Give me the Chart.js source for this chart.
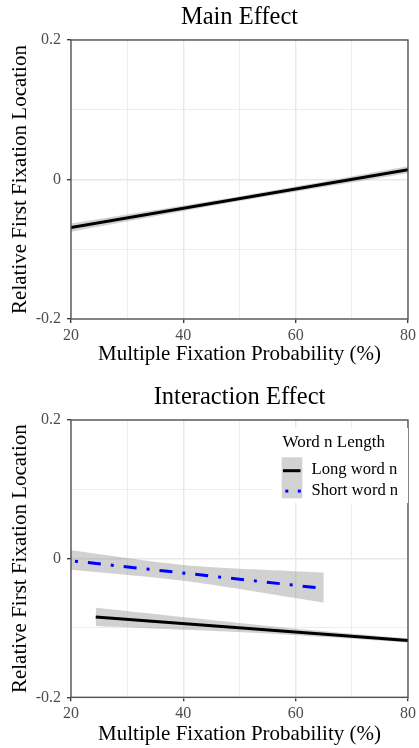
<!DOCTYPE html>
<html><head><meta charset="utf-8">
<script src="https://cdn.jsdelivr.net/npm/chart.js@4.4.1/dist/chart.umd.min.js"></script>
<style>
html,body{margin:0;padding:0;background:#fff;}
#wrap{position:relative;width:419px;height:748px;overflow:hidden;}
.pane{position:absolute;left:0;width:419px;height:374px;}
</style></head><body>
<div id="wrap">
<div class="pane" style="top:0"><canvas id="c1" width="419" height="374"></canvas></div>
<div class="pane" style="top:374px"><canvas id="c2" width="419" height="374"></canvas></div>
</div>
<script>
// ---- data ----
const panelTitles = ['Main Effect', 'Interaction Effect'];
const xAxisTitle = 'Multiple Fixation Probability (%)';
const yAxisTitle = 'Relative First Fixation Location';
const xTickLabels = ['20', '40', '60', '80'];
const yTickLabels = ['-0.2', '0', '0.2'];

const mainX = [20, 80];
const mainFit = [-0.069, 0.014];
const mainRibbonX = [20, 50, 80];
const mainUpper = [-0.063, -0.024, 0.019];
const mainLower = [-0.075, -0.031, 0.009];

const longX = [24.4, 80];
const longFit = [-0.084, -0.118];
const longRibbonX = [24.4, 55, 80];
const longUpper = [-0.071, -0.097, -0.115];
const longLower = [-0.097, -0.108, -0.121];

const shortX = [20, 65];
const shortFit = [-0.003, -0.043];
const shortRibbonX = [20, 40, 65];
const shortUpper = [0.012, -0.009, -0.020];
const shortLower = [-0.016, -0.032, -0.0635];

const legendTitle = 'Word n Length';
const seriesNames = ['Long word n', 'Short word n'];

// ---- helpers ----
const SERIF = "'Liberation Serif', 'Times New Roman', serif";
const RIBBON = 'rgba(153,153,153,0.45)';
const pts = (xs, ys) => xs.map((x, i) => ({x, y: ys[i]}));

function lineDs(label, xs, ys, color, dash, dashOffset) {
  return {type: 'line', label, data: pts(xs, ys), borderColor: color, borderWidth: 3,
    borderDash: dash || [], borderDashOffset: dashOffset || 0, borderCapStyle: 'butt',
    pointRadius: 0, fill: false, tension: 0};
}
function ribbonDs(xs, upper, lower) {
  return [
    {type: 'line', label: '_up', data: pts(xs, upper), borderWidth: 0, borderColor: 'rgba(0,0,0,0)',
      pointRadius: 0, fill: false, tension: 0.3},
    {type: 'line', label: '_lo', data: pts(xs, lower), borderWidth: 0, borderColor: 'rgba(0,0,0,0)',
      pointRadius: 0, fill: '-1', backgroundColor: RIBBON, tension: 0.3}
  ];
}

const borderPlugin = {
  id: 'panelBorder',
  afterDatasetsDraw(chart) {
    const a = chart.chartArea, ctx = chart.ctx;
    ctx.save();
    ctx.strokeStyle = '#4a4a4a';
    ctx.lineWidth = 1.3;
    ctx.strokeRect(a.left, a.top, a.right - a.left, a.bottom - a.top);
    ctx.restore();
  }
};

const legendPlugin = {
  id: 'insideLegend',
  afterDraw(chart) {
    const ctx = chart.ctx;
    ctx.save();
    ctx.fillStyle = '#ffffff';
    ctx.fillRect(272, 54, 136, 75);
    ctx.fillStyle = '#000';
    ctx.font = '17px ' + SERIF;
    ctx.textBaseline = 'alphabetic';
    ctx.textAlign = 'left';
    ctx.fillText(legendTitle, 282.5, 72.5);
    ctx.fillStyle = '#d2d2d2';
    ctx.fillRect(281.7, 83.3, 20.6, 41);
    ctx.strokeStyle = '#000';
    ctx.lineWidth = 3;
    ctx.beginPath(); ctx.moveTo(283, 96.7); ctx.lineTo(300.5, 96.7); ctx.stroke();
    ctx.fillStyle = '#0000ff';
    ctx.fillRect(285.3, 115.6, 3, 3);
    ctx.fillRect(297.8, 115.6, 3, 3);
    ctx.fillStyle = '#000';
    ctx.font = '16.6px ' + SERIF;
    ctx.fillText(seriesNames[0], 311.5, 100.3);
    ctx.fillText(seriesNames[1], 311.5, 121);
    ctx.restore();
  }
};

function makeChart(id, title, datasets, cfg, plugins) {
  return new Chart(document.getElementById(id), {
    type: 'line',
    data: {datasets},
    options: {
      responsive: false, animation: false,
      layout: {padding: {left: 0, right: 8, top: 0, bottom: 0}},
      plugins: {
        legend: {display: false}, tooltip: {enabled: false},
        title: {display: true, text: title, fullSize: false, color: '#000',
          font: {family: SERIF, size: 24.5, weight: 'normal', lineHeight: 1.2},
          padding: {top: cfg.titleTop, bottom: cfg.titleBottom}}
      },
      scales: {
        x: {type: 'linear', min: 20, max: 80,
          afterFit(s) { s.height = cfg.xHeight; },
          border: {display: false},
          grid: {color: '#e8e8e8', drawTicks: true, tickLength: 4,
            lineWidth: c => (c.tick && c.tick.value % 20 === 0) ? 1.4 : 0.8,
            tickColor: c => (c.tick && c.tick.value % 20 === 0) ? '#333' : 'rgba(0,0,0,0)',
            tickWidth: 1.3},
          ticks: {stepSize: 10, autoSkip: false, maxRotation: 0, padding: 3, color: '#4d4d4d',
            font: {family: SERIF, size: 16},
            callback: v => { const i = xTickLabels.indexOf(String(v)); return i >= 0 ? xTickLabels[i] : ''; }},
          title: {display: true, text: xAxisTitle, color: '#000',
            font: {family: SERIF, size: 21, lineHeight: 1.2},
            padding: {top: 0, bottom: cfg.xTitleBottom}}
        },
        y: {type: 'linear', min: -0.2, max: 0.2,
          afterFit(s) { s.width = 71; },
          border: {display: false},
          grid: {color: '#e8e8e8', drawTicks: true, tickLength: 4,
            lineWidth: c => (c.tick && Math.round(c.tick.value * 10) % 2 === 0) ? 1.4 : 0.8,
            tickColor: c => (c.tick && Math.round(c.tick.value * 10) % 2 === 0) ? '#333' : 'rgba(0,0,0,0)',
            tickWidth: 1.3},
          ticks: {stepSize: 0.1, autoSkip: false, padding: 6, color: '#4d4d4d',
            font: {family: SERIF, size: 16},
            callback: v => { const r = Math.round(v * 10); if (r % 2 !== 0) return '';
              return yTickLabels[r / 2 + 1]; }},
          title: {display: true, text: yAxisTitle, color: '#000',
            font: {family: SERIF, size: 21, lineHeight: 1.2},
            padding: {top: 7.4, bottom: 0}}
        }
      }
    },
    plugins
  });
}

makeChart('c1', panelTitles[0], [
  lineDs('Main', mainX, mainFit, '#000000'),
  ...ribbonDs(mainRibbonX, mainUpper, mainLower)
], {titleTop: 3, titleBottom: 7.6, xHeight: 55, xTitleBottom: 6.8}, [borderPlugin]);

makeChart('c2', panelTitles[1], [
  lineDs(seriesNames[0], longX, longFit, '#000000'),
  lineDs(seriesNames[1], shortX, shortFit, '#0000ff', [3, 10, 13, 10], 32),
  ...ribbonDs(longRibbonX, longUpper, longLower),
  ...ribbonDs(shortRibbonX, shortUpper, shortLower)
], {titleTop: 8.5, titleBottom: 8.1, xHeight: 50.7, xTitleBottom: 0.8}, [borderPlugin, legendPlugin]);
</script>
</body></html>
